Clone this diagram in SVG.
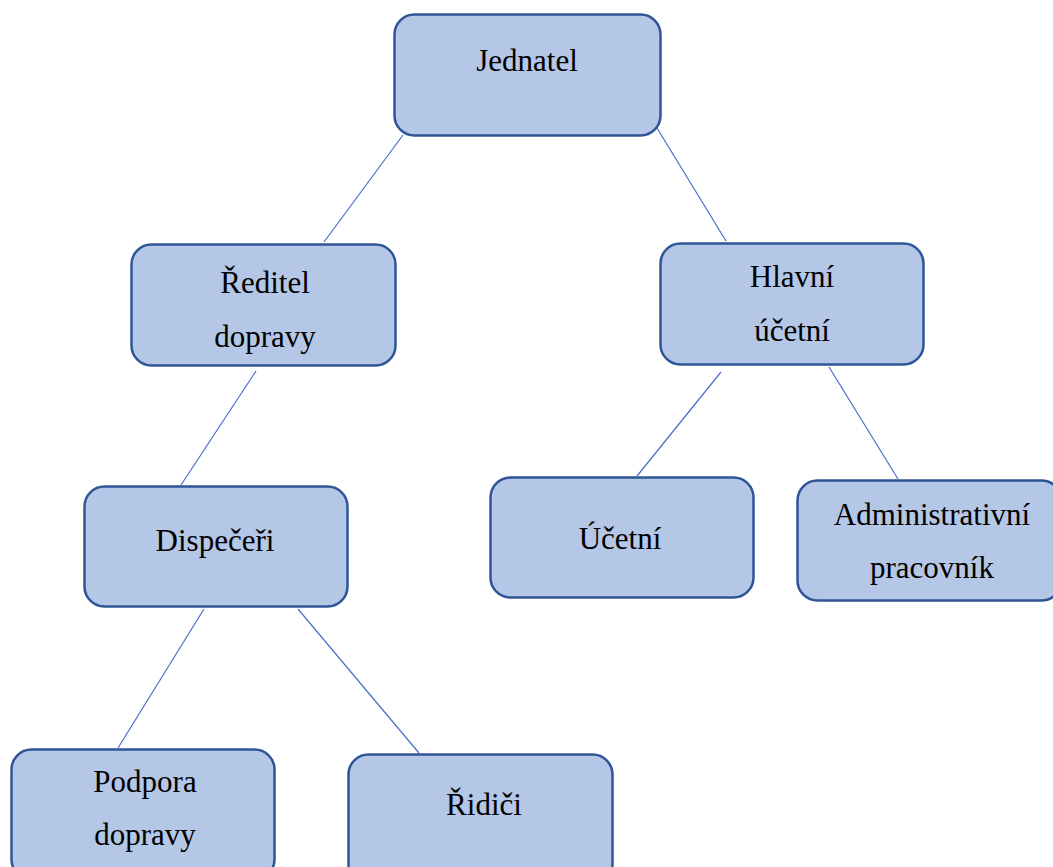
<svg xmlns="http://www.w3.org/2000/svg" width="1053" height="867" viewBox="0 0 1053 867">
<style>
.box{fill:#B4C7E7;stroke:#2F5597;stroke-width:2.5}
.t{font-family:"Liberation Serif","Times New Roman",serif;font-size:31px;fill:#000;text-anchor:middle}
.c line{stroke:#4472C4;stroke-width:1.2}
</style>
<rect width="1053" height="867" fill="#fff"/>
<g class="c" id="connectors">
<line x1="403" y1="135" x2="324" y2="242"/>
<line x1="657" y1="128" x2="726" y2="241"/>
<line x1="256" y1="371" x2="181" y2="485"/>
<line x1="721" y1="372" x2="637" y2="476"/>
<line x1="829" y1="367" x2="898" y2="479"/>
<line x1="204" y1="609" x2="118" y2="748"/>
<line x1="298" y1="609" x2="419" y2="753"/>
</g>
<g id="jednatel"><rect class="box" x="394.5" y="14.5" width="266" height="121" rx="20"/><text class="t" x="527" y="71">Jednatel</text></g>
<g id="reditel"><rect class="box" x="131.5" y="244.5" width="264" height="121" rx="20"/><text class="t" x="265" y="293">Ředitel</text><text class="t" x="265" y="347">dopravy</text></g>
<g id="hlavni"><rect class="box" x="660.5" y="243.5" width="263" height="121" rx="20"/><text class="t" x="792" y="287">Hlavní</text><text class="t" x="792" y="341">účetní</text></g>
<g id="dispeceri"><rect class="box" x="84.5" y="486.5" width="263" height="120" rx="20"/><text class="t" x="215" y="551">Dispečeři</text></g>
<g id="ucetni"><rect class="box" x="490.5" y="477.5" width="263" height="120" rx="20"/><text class="t" x="620" y="549">Účetní</text></g>
<g id="admin"><rect class="box" x="797.5" y="480.5" width="264" height="120" rx="20"/><text class="t" x="932" y="525">Administrativní</text><text class="t" x="932" y="578">pracovník</text></g>
<g id="podpora"><rect class="box" x="11.5" y="749.5" width="263" height="130" rx="20"/><text class="t" x="145" y="792">Podpora</text><text class="t" x="145" y="845">dopravy</text></g>
<g id="ridici"><rect class="box" x="348.5" y="754.5" width="264" height="130" rx="20"/><text class="t" x="484" y="815">Řidiči</text></g>
</svg>
